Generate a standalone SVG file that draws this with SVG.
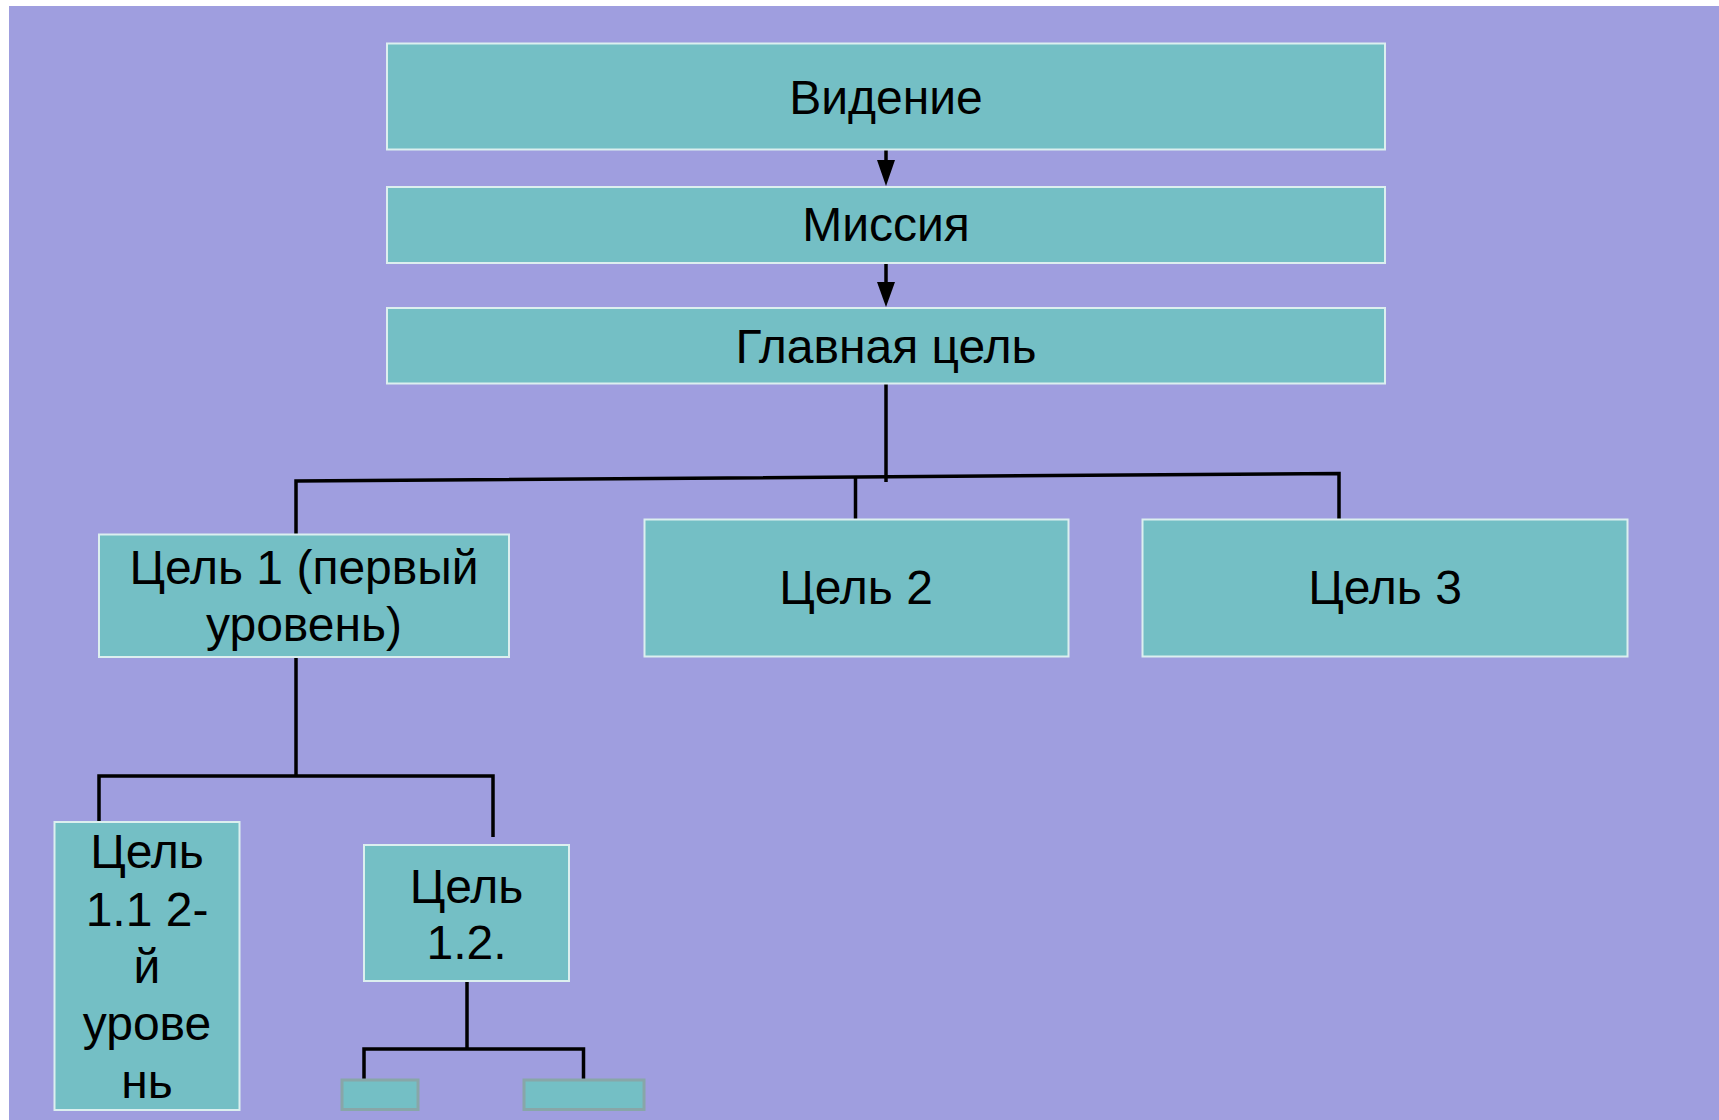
<svg xmlns="http://www.w3.org/2000/svg" width="1719" height="1120" viewBox="0 0 1719 1120">
<style>
.bx{fill:#74bfc5;stroke:#dcefef;stroke-width:2}
.sm{fill:#74bfc5;stroke:#88a6a8;stroke-width:3}
.t{font-family:"Liberation Sans",Arial,sans-serif;font-size:48px;fill:#000;text-anchor:middle}
.c{stroke:#000;stroke-width:3.5;fill:none}
</style>
<rect x="0" y="0" width="1719" height="1120" fill="#ffffff"/>
<rect x="9" y="6" width="1710" height="1114" fill="#9f9edf"/>
<g id="connectors">
<line class="c" x1="886" y1="150" x2="886" y2="160"/>
<path d="M877,160 L895,160 L886,186 Z" fill="#000"/>
<line class="c" x1="886" y1="263" x2="886" y2="282"/>
<path d="M877,282 L895,282 L886,307 Z" fill="#000"/>
<line class="c" x1="886" y1="384" x2="886" y2="482"/>
<polyline class="c" points="296,534 296,481 1339,473.5 1339,519"/>
<line class="c" x1="855.5" y1="478" x2="855.5" y2="519"/>
<line class="c" x1="296" y1="657" x2="296" y2="776"/>
<polyline class="c" points="99,822 99,776 493,776 493,837"/>
<line class="c" x1="467" y1="981" x2="467" y2="1049"/>
<polyline class="c" points="364,1079 364,1049 583.5,1049 583.5,1079"/>
</g>
<g id="n-vision">
<rect class="bx" x="387" y="43.5" width="998" height="106"/>
<text class="t" x="886" y="113.5">Видение</text>
</g>
<g id="n-mission">
<rect class="bx" x="387" y="187" width="998" height="76"/>
<text class="t" x="886" y="241">Миссия</text>
</g>
<g id="n-main">
<rect class="bx" x="387" y="308" width="998" height="75.5"/>
<text class="t" x="886" y="362.5">Главная цель</text>
</g>
<g id="n-goal1">
<rect class="bx" x="99" y="534.5" width="410" height="122.5"/>
<text class="t" x="304" y="583.5">Цель 1 (первый</text>
<text class="t" x="304" y="641">уровень)</text>
</g>
<g id="n-goal2">
<rect class="bx" x="644.5" y="519.5" width="424" height="137"/>
<text class="t" x="856" y="604">Цель 2</text>
</g>
<g id="n-goal3">
<rect class="bx" x="1142.5" y="519.5" width="485" height="137"/>
<text class="t" x="1385" y="604">Цель 3</text>
</g>
<g id="n-goal11">
<rect class="bx" x="54.5" y="822" width="185" height="288"/>
<text class="t" x="147" y="867.5">Цель</text>
<text class="t" x="147" y="925.5">1.1 2-</text>
<text class="t" x="147" y="983">й</text>
<text class="t" x="147" y="1040">урове</text>
<text class="t" x="147" y="1098">нь</text>
</g>
<g id="n-goal12">
<rect class="bx" x="364" y="845" width="205" height="136"/>
<text class="t" x="466.5" y="902.5">Цель</text>
<text class="t" x="466.5" y="958.5">1.2.</text>
</g>
<g id="n-sub1">
<rect class="sm" x="342" y="1080" width="76" height="29.5"/>
</g>
<g id="n-sub2">
<rect class="sm" x="524" y="1080" width="120" height="29.5"/>
</g>
</svg>
